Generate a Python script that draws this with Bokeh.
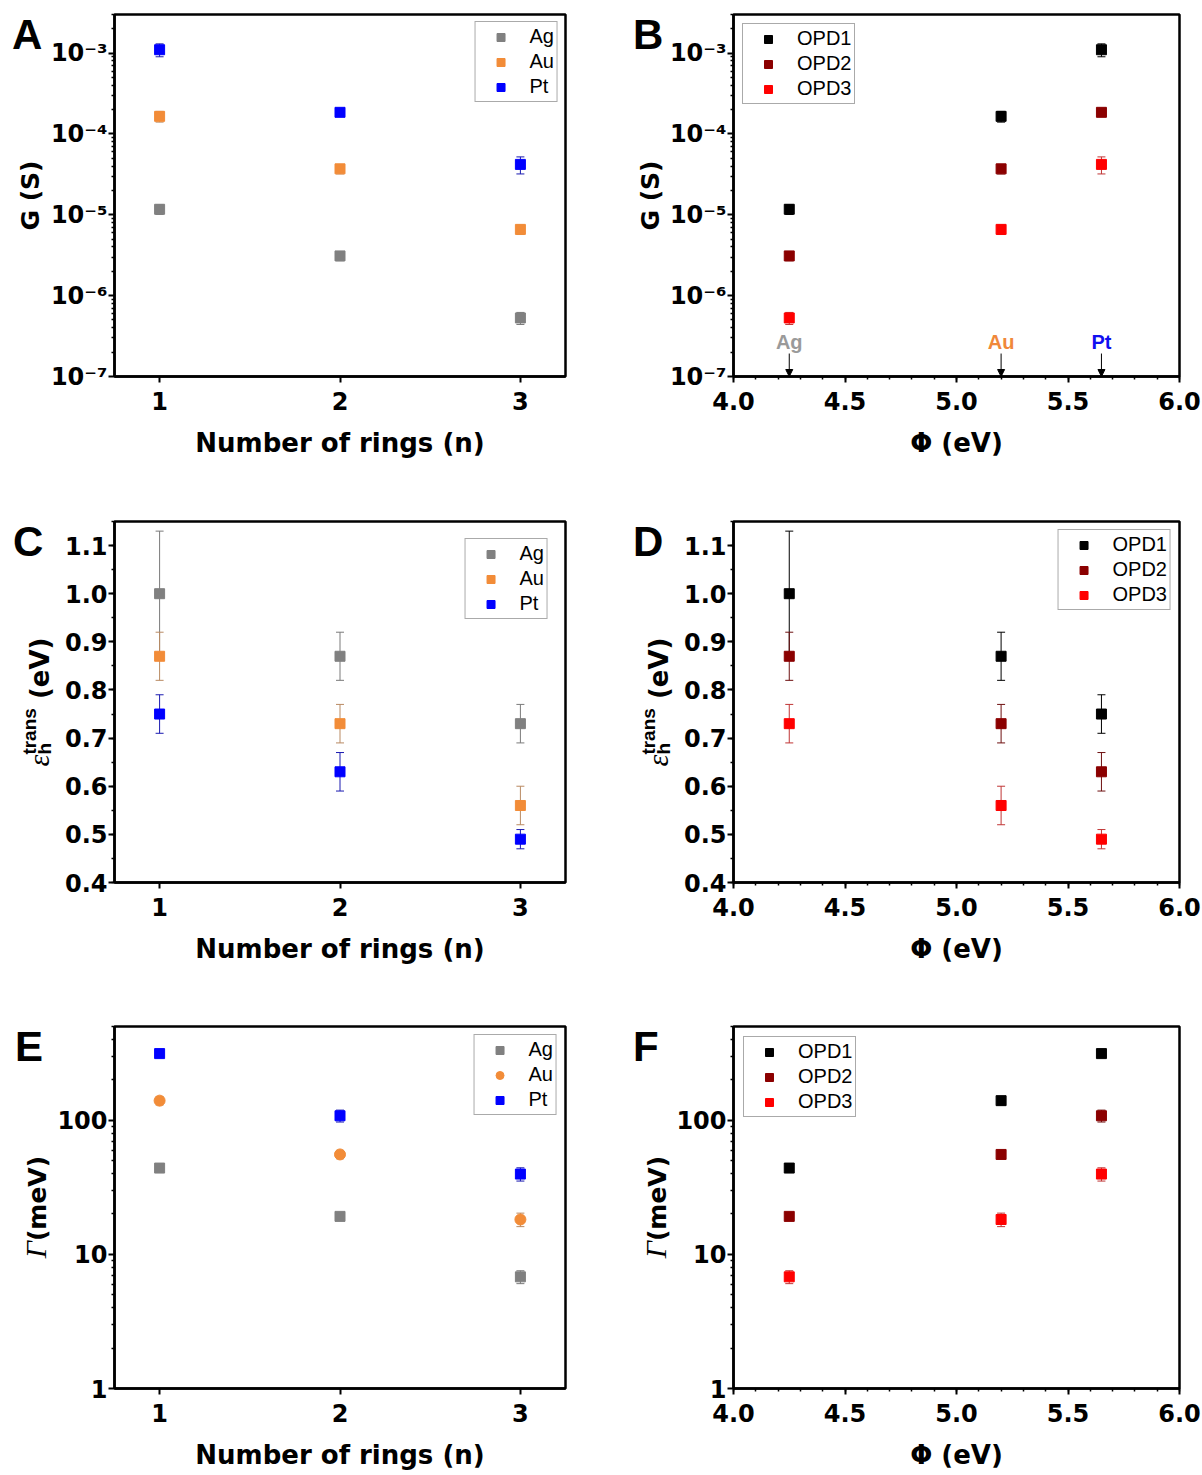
import math
from bokeh.plotting import figure
from bokeh.models import (ColumnDataSource, Whisker, TeeHead, Legend, LegendItem,
                          FixedTicker, Label, Arrow, NormalHead, Range1d, Div)
from bokeh.layouts import column, row
from bokeh.embed import file_html
from bokeh.resources import INLINE

# ---------------- data ----------------
metals = ["Ag", "Au", "Pt"]
rings = [1, 2, 3]
work_function = [4.25, 5.20, 5.65]
opd_names = ["OPD1", "OPD2", "OPD3"]

# conductance G (S) vs number of rings (n = 1, 2, 3)
G_Ag = [1.17e-5, 3.1e-6, 5.3e-7]
G_Au = [1.65e-4, 3.7e-5, 6.6e-6]
G_Pt = [1.10e-3, 1.85e-4, 4.2e-5]
G_Ag_err = [1.6e-6, 4.0e-7, 0.9e-7]
G_Au_err = [2.5e-5, 5.0e-6, 0.9e-6]
G_Pt_err = [2.0e-4, 1.5e-5, 1.0e-5]

# transport level eps_h^trans (eV)
E_Ag = [1.00, 0.87, 0.73]
E_Au = [0.87, 0.73, 0.56]
E_Pt = [0.75, 0.63, 0.49]
E_Ag_err = [0.13, 0.05, 0.04]
E_Au_err = [0.05, 0.04, 0.04]
E_Pt_err = [0.04, 0.04, 0.02]

# coupling Gamma (meV)
W_Ag = [44.0, 19.2, 6.8]
W_Au = [140.0, 55.6, 18.2]
W_Pt = [314.0, 108.0, 39.7]
W_Ag_err = [2.0, 1.0, 0.75]
W_Au_err = [10.0, 4.0, 2.1]
W_Pt_err = [15.0, 11.0, 4.5]

# ticks
ring_ticks = [1, 2, 3]
ring_tick_labels = ["1", "2", "3"]
wf_ticks = [4.0, 4.5, 5.0, 5.5, 6.0]
wf_tick_labels = ["4.0", "4.5", "5.0", "5.5", "6.0"]
G_ticks = [1e-7, 1e-6, 1e-5, 1e-4, 1e-3]
G_tick_labels = ["10\u207b\u2077", "10\u207b\u2076", "10\u207b\u2075", "10\u207b\u2074", "10\u207b\u00b3"]
eps_ticks = [0.4, 0.5, 0.6, 0.7, 0.8, 0.9, 1.0, 1.1]
eps_tick_labels = ["0.4", "0.5", "0.6", "0.7", "0.8", "0.9", "1.0", "1.1"]
gam_ticks = [1, 10, 100]
gam_tick_labels = ["1", "10", "100"]

# colours
metal_colors = ["#808080", "#F28C38", "#0000FF"]
metal_err_colors = ["#7A7A7A", "#B98A62", "#1A1AB0"]
opd_colors = ["#000000", "#8B0000", "#FF0000"]
opd_err_colors = ["#000000", "#6E1010", "#C03535"]
metal_text_colors = ["#9A9A9A", "#F0883A", "#1010F0"]

# ---------------- layout helpers ----------------
# page columns: [side div | figure] [side div | figure]
COLS = [dict(div_x=0, div_w=44, width=574, left=70, frame=451),
        dict(div_x=618, div_w=45, width=539, left=70, frame=446)]
ROWS = [dict(y=0, height=505, top=14, frame=362),
        dict(y=505, height=505, top=16, frame=361),
        dict(y=1010, height=465, top=16, frame=362)]
TICK_FONT = "DejaVu Sans"
SANS = "Liberation Sans"

wf_minor = [round(4.0 + 0.1 * i, 2) for i in range(21)]
eps_minor = [round(0.4 + 0.05 * i, 3) for i in range(16)]
ring_minor = []
G_minor = [k * 10.0 ** e for e in range(-7, -2) for k in range(2, 10)]
gam_minor = [k * 10.0 ** e for e in range(0, 3) for k in range(2, 10)]


def panel(ci, ri, xr, yr, ylog, xt, xm, xl, yt, ym, yl):
    c, r = COLS[ci], ROWS[ri]
    p = figure(width=c["width"], height=r["height"],
               x_range=Range1d(*xr), y_range=Range1d(*yr),
               y_axis_type="log" if ylog else "linear",
               output_backend="svg", toolbar_location=None,
               min_border_left=c["left"],
               min_border_right=c["width"] - c["left"] - c["frame"],
               min_border_top=r["top"],
               min_border_bottom=r["height"] - r["top"] - r["frame"])
    p.xgrid.visible = False
    p.ygrid.visible = False
    p.outline_line_color = "black"
    p.outline_line_width = 2.5
    p.outline_line_alpha = 1.0
    p.background_fill_color = "white"
    p.border_fill_color = None
    for ax, t, m, lab in ((p.xaxis[0], xt, xm, xl), (p.yaxis[0], yt, ym, yl)):
        ax.ticker = FixedTicker(ticks=t, minor_ticks=m)
        ax.major_label_overrides = {tv: tl for tv, tl in zip(t, lab)}
        ax.axis_line_width = 2.5
        ax.axis_line_color = "black"
        ax.major_tick_line_width = 2
        ax.minor_tick_line_width = 1.5
        ax.major_tick_line_color = "black"
        ax.minor_tick_line_color = "black"
        ax.major_tick_in = 0
        ax.major_tick_out = 6
        ax.minor_tick_in = 0
        ax.minor_tick_out = 3
        ax.major_label_text_font = TICK_FONT
        ax.major_label_text_font_style = "bold"
        ax.major_label_text_font_size = "24px"
        ax.major_label_text_color = "black"
        ax.axis_label_text_font = TICK_FONT
        ax.axis_label_text_font_style = "bold"
        ax.axis_label_text_font_size = "26px"
        ax.axis_label_text_color = "black"
    p.xaxis[0].major_label_standoff = 9
    p.yaxis[0].major_label_standoff = 1
    p.xaxis[0].axis_label_standoff = 15
    return p


def series(p, xs, ys, errs, color, ecolor, marker="square", size=10):
    src = ColumnDataSource(dict(x=list(xs), y=list(ys),
                                lo=[v - e for v, e in zip(ys, errs)],
                                hi=[v + e for v, e in zip(ys, errs)]))
    w = Whisker(source=src, base="x", lower="lo", upper="hi",
                line_color=ecolor, line_width=1,
                lower_head=TeeHead(size=8, line_color=ecolor, line_width=1),
                upper_head=TeeHead(size=8, line_color=ecolor, line_width=1))
    p.add_layout(w)
    return p.scatter("x", "y", source=src, marker=marker, size=size,
                     fill_color=color, line_color=color)


def legend(p, items, loc, margin):
    lg = Legend(items=[LegendItem(label=l, renderers=[r]) for l, r in items],
                location=loc, margin=margin, orientation="vertical",
                glyph_width=44, glyph_height=20, label_height=20,
                label_standoff=7, spacing=2, padding=3,
                label_text_font=SANS, label_text_font_size="20px",
                label_text_color="black",
                border_line_color="#555555", border_line_width=1.5,
                background_fill_color="white", background_fill_alpha=1.0)
    p.add_layout(lg)


def side_div(ci, ri, letter, label_html, label_cx, letter_x):
    """Left strip of a panel: panel letter and the (rotated) y-axis title."""
    c, r = COLS[ci], ROWS[ri]
    x0 = c["div_x"]
    w, h = c["div_w"], r["height"]
    letter_top = r["top"] + 36 - 35.6          # baseline 36 px below frame top
    cy = r["top"] + r["frame"] / 2.0           # centred on the frame
    cx = label_cx - x0
    html = (
        f"<div style='position:relative; width:{w}px; height:{h}px; overflow:visible;'>"
        f"<div style='position:absolute; left:{letter_x - x0}px; top:{letter_top:.1f}px; "
        f"font-family:Liberation Sans, Arial, sans-serif; font-weight:bold; font-size:42px; "
        f"line-height:42px; color:black;'>{letter}</div>"
        f"<div style='position:absolute; left:0px; top:{cy - 150:.1f}px; width:{2 * cx}px; "
        f"height:300px; display:flex; align-items:center; justify-content:center;'>"
        f"<div style='transform:rotate(-90deg); white-space:nowrap; line-height:1; color:black;'>"
        f"{label_html}</div></div></div>"
    )
    return Div(text=html, width=w, height=h, margin=(0, 0, 0, 0),
               styles={"overflow": "visible"})


G_LABEL = ("<span style='font-family:DejaVu Sans; font-weight:bold; font-size:25px;'>"
           "G (S)</span>")
EPS_LABEL = ("<span style='font-family:Liberation Serif; font-style:italic; font-size:30px;'>"
             "\u03b5</span>"
             "<span style='display:inline-block; vertical-align:-2px; text-align:left; "
             "font-family:Liberation Sans; font-weight:bold; font-size:19px; line-height:15px;'>"
             "trans<br>h</span>"
             "<span style='font-family:DejaVu Sans; font-weight:bold; font-size:26px;'>"
             "&nbsp;(eV)</span>")
GAM_LABEL = ("<span style='font-family:Liberation Serif; font-style:italic; font-size:30px;'>"
             "\u0393</span>"
             "<span style='font-family:DejaVu Sans; font-weight:bold; font-size:25px;'>"
             "(meV)</span>")

G_sets = [(G_Ag, G_Ag_err), (G_Au, G_Au_err), (G_Pt, G_Pt_err)]
E_sets = [(E_Ag, E_Ag_err), (E_Au, E_Au_err), (E_Pt, E_Pt_err)]
W_sets = [(W_Ag, W_Ag_err), (W_Au, W_Au_err), (W_Pt, W_Pt_err)]

x_rings = (0.75, 3.25)
x_wf = (4.0, 6.0)
y_G = (1e-7, 3e-3)
y_E = (0.4, 1.15)
y_W = (1.0, 500.0)


def by_rings(p, sets, markers):
    rs = []
    for i, (vals, errs) in enumerate(sets):
        rs.append((metals[i], series(p, rings, vals, errs, metal_colors[i],
                                     metal_err_colors[i], markers[i],
                                     11 if markers[i] == "circle" else 10)))
    return rs


def by_wf(p, sets):
    rs = []
    for k in range(3):
        vals = [sets[m][0][k] for m in range(3)]
        errs = [sets[m][1][k] for m in range(3)]
        rs.append((opd_names[k], series(p, work_function, vals, errs,
                                        opd_colors[k], opd_err_colors[k])))
    return rs


# ---------------- panel A ----------------
pA = panel(0, 0, x_rings, y_G, True, ring_ticks, ring_minor, ring_tick_labels,
           G_ticks, G_minor, G_tick_labels)
pA.xaxis.axis_label = "Number of rings (n)"
legend(pA, by_rings(pA, G_sets, ["square"] * 3), "top_right", 7)
dA = side_div(0, 0, "A", G_LABEL, 30, 12)

# ---------------- panel B ----------------
pB = panel(1, 0, x_wf, y_G, True, wf_ticks, wf_minor, wf_tick_labels,
           G_ticks, G_minor, G_tick_labels)
pB.xaxis.axis_label = "\u03a6 (eV)"
legend(pB, by_wf(pB, G_sets), "top_left", 9)
dB = side_div(1, 0, "B", G_LABEL, 650, 633)
for i, m in enumerate(metals):
    pB.add_layout(Label(x=work_function[i], y=y_G[0], y_offset=35, text=m,
                        text_align="center", text_baseline="middle",
                        text_font=SANS, text_font_style="bold", text_font_size="20px",
                        text_color=metal_text_colors[i]))
    pB.add_layout(Arrow(x_start=work_function[i], y_start=y_G[0] * 10 ** (23 / 81),
                        x_end=work_function[i], y_end=y_G[0],
                        line_color="black", line_width=1,
                        end=NormalHead(size=7, fill_color="black", line_color="black")))

# ---------------- panel C ----------------
pC = panel(0, 1, x_rings, y_E, False, ring_ticks, ring_minor, ring_tick_labels,
           eps_ticks, eps_minor, eps_tick_labels)
pC.xaxis.axis_label = "Number of rings (n)"
legend(pC, by_rings(pC, E_sets, ["square"] * 3), "top_right", 17)
dC = side_div(0, 1, "C", EPS_LABEL, 38, 13)

# ---------------- panel D ----------------
pD = panel(1, 1, x_wf, y_E, False, wf_ticks, wf_minor, wf_tick_labels,
           eps_ticks, eps_minor, eps_tick_labels)
pD.xaxis.axis_label = "\u03a6 (eV)"
legend(pD, by_wf(pD, E_sets), "top_right", 8)
dD = side_div(1, 1, "D", EPS_LABEL, 657, 633)

# ---------------- panel E ----------------
pE = panel(0, 2, x_rings, y_W, True, ring_ticks, ring_minor, ring_tick_labels,
           gam_ticks, gam_minor, gam_tick_labels)
pE.xaxis.axis_label = "Number of rings (n)"
legend(pE, by_rings(pE, W_sets, ["square", "circle", "square"]), "top_right", 8)
dE = side_div(0, 2, "E", GAM_LABEL, 36, 15)

# ---------------- panel F ----------------
pF = panel(1, 2, x_wf, y_W, True, wf_ticks, wf_minor, wf_tick_labels,
           gam_ticks, gam_minor, gam_tick_labels)
pF.xaxis.axis_label = "\u03a6 (eV)"
legend(pF, by_wf(pF, W_sets), "top_left", 10)
dF = side_div(1, 2, "F", GAM_LABEL, 656, 633)

layout = column(row(dA, pA, dB, pB), row(dC, pC, dD, pD), row(dE, pE, dF, pF))
open("out.html", "w").write(file_html(layout, INLINE))
